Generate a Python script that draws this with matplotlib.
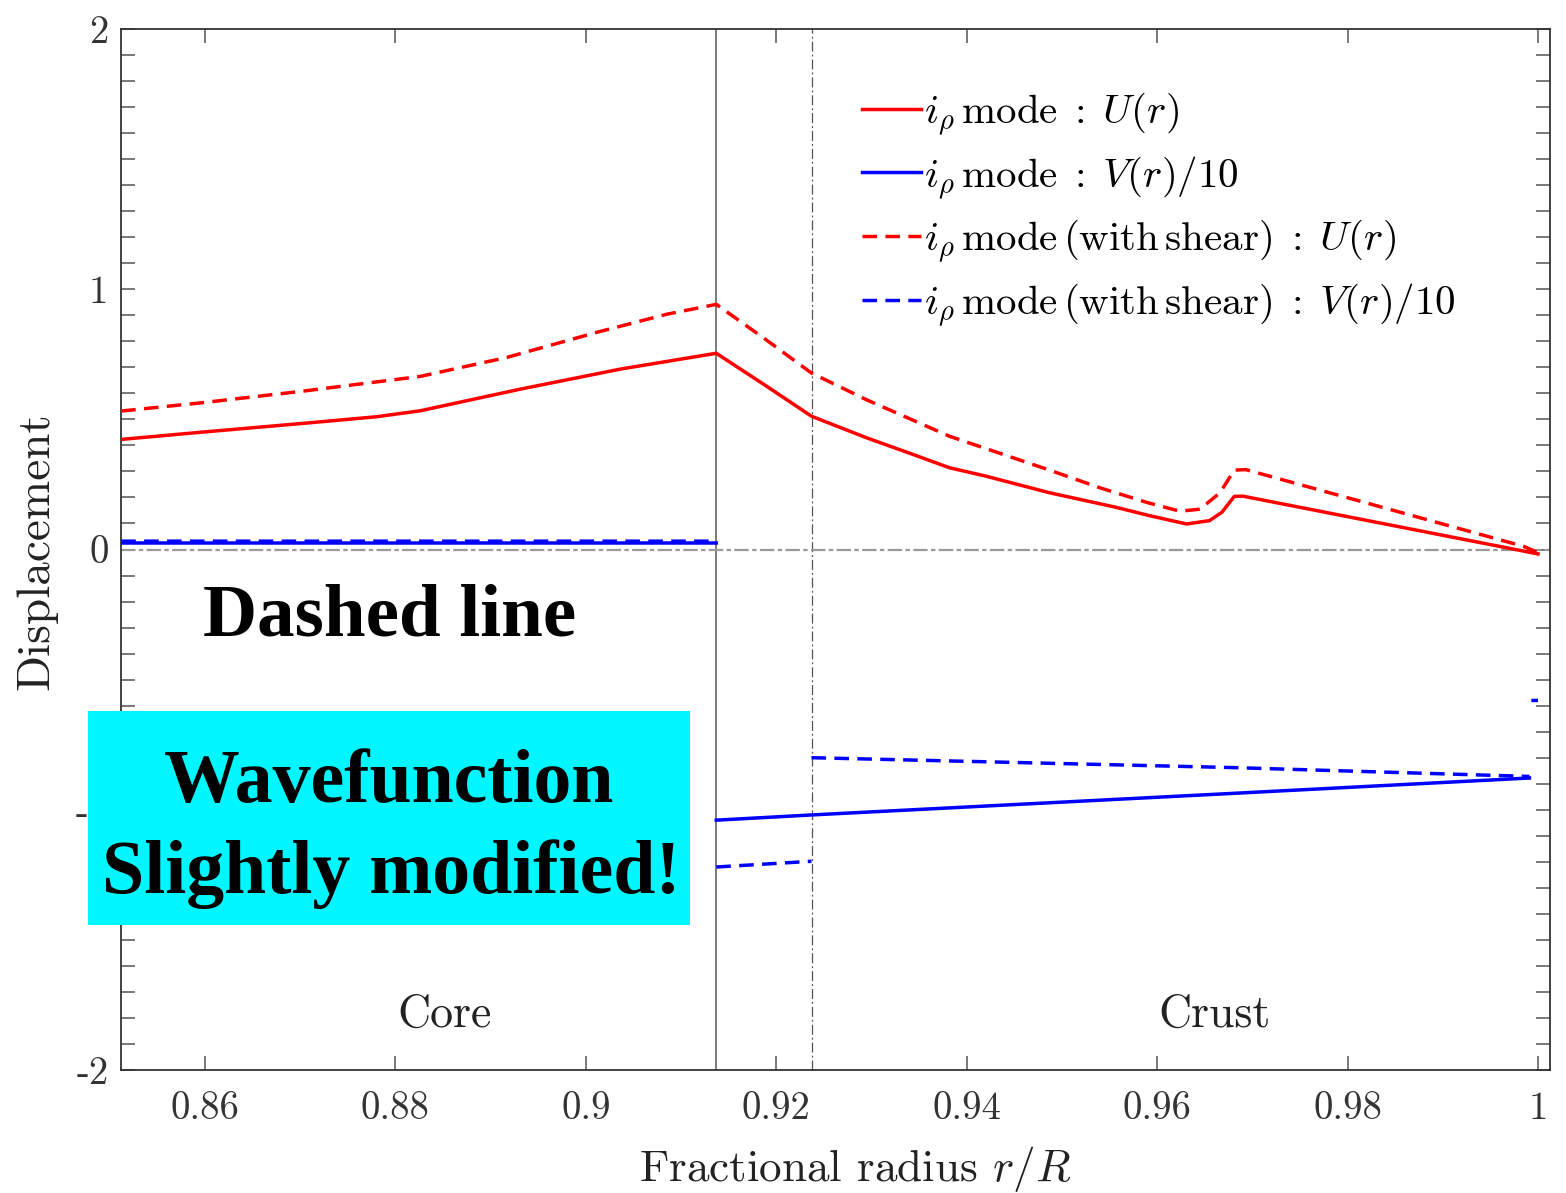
import numpy as np
import matplotlib
matplotlib.use("Agg")
import matplotlib.pyplot as plt
from matplotlib.patches import Rectangle

plt.rcParams["font.family"] = ["cmr10", "DejaVu Serif"]
plt.rcParams["mathtext.fontset"] = "cm"
plt.rcParams["axes.unicode_minus"] = False
plt.rcParams["axes.formatter.use_mathtext"] = True

nan = np.nan

# Region boundaries (fractional radius)
r_core_crust = 0.9137
r_shear_edge = 0.9237

# i_rho mode, no shear: U(r)
r_u = [0.8512, 0.8597, 0.8704, 0.8780, 0.8826, 0.8931, 0.9036, 0.9137, 0.9190,
       0.9237, 0.9295, 0.9340, 0.9382, 0.9420, 0.9487, 0.9557, 0.9592, 0.9631,
       0.9655, 0.9668, 0.9681, 0.9690, 1.0000]
u = [0.423, 0.451, 0.485, 0.510, 0.533, 0.616, 0.693, 0.754, 0.627,
     0.512, 0.429, 0.370, 0.314, 0.282, 0.218, 0.162, 0.130, 0.098,
     0.111, 0.143, 0.204, 0.205, -0.017]

# i_rho mode, with shear: U(r)
r_us = [0.8512, 0.8597, 0.8704, 0.8826, 0.8917, 0.9011, 0.9085, 0.9137, 0.9187,
        0.9237, 0.9295, 0.9382, 0.9487, 0.9540, 0.9590, 0.9624, 0.9645, 0.9666,
        0.9681, 0.9693, 0.9985, 1.0000]
us = [0.532, 0.564, 0.609, 0.665, 0.738, 0.834, 0.904, 0.942, 0.812,
      0.678, 0.575, 0.435, 0.305, 0.237, 0.180, 0.147, 0.155, 0.218,
      0.305, 0.307, 0.012, -0.012]

# i_rho mode, no shear: V(r)/10
r_v = [0.8512, 0.9137, 0.9137, 0.9137, 0.9237, 0.9680, 0.9991]
v = [0.025, 0.025, nan, -1.040, -1.020, -0.937, -0.878]

# i_rho mode, with shear: V(r)/10
r_vs = [0.8512, 0.9137, 0.9137, 0.9137, 0.9237, 0.9237, 0.9237, 0.9680, 0.9991,
        0.9991, 0.9993, 1.0000]
vs = [0.032, 0.032, nan, -1.220, -1.198, nan, -0.800, -0.838, -0.872,
      nan, -0.580, -0.580]

x_ticks = [0.86, 0.88, 0.90, 0.92, 0.94, 0.96, 0.98, 1.00]
x_ticklabels = ["0.86", "0.88", "0.9", "0.92", "0.94", "0.96", "0.98", "1"]
y_ticks = [-2, -1, 0, 1, 2]
y_ticklabels = ["-2", "-1", "0", "1", "2"]

labels = [
    r"$i_\rho\,\mathrm{mode}\;:\;U(r)$",
    r"$i_\rho\,\mathrm{mode}\;:\;V(r)/10$",
    r"$i_\rho\,\mathrm{mode}\,(\mathrm{with\,shear})\;:\;U(r)$",
    r"$i_\rho\,\mathrm{mode}\,(\mathrm{with\,shear})\;:\;V(r)/10$",
]

W, H = 1566, 1193
fig = plt.figure(figsize=(W / 100, H / 100), dpi=100)
ax = fig.add_axes([121 / W, 1 - 1070 / H, (1550 - 121) / W, (1070 - 29) / H])

lw = 2.5
dash = (0, (4.2, 2.4))
ax.plot(r_u, u, color="#ff0000", lw=lw, label=labels[0], zorder=4)
ax.plot(r_v, v, color="#0000ff", lw=lw, label=labels[1], zorder=4)
ax.plot(r_us, us, color="#ff0000", lw=lw, ls=dash, label=labels[2], zorder=4)
ax.plot(r_vs, vs, color="#0000ff", lw=lw, ls=dash, label=labels[3], zorder=4)

ax.axvline(r_core_crust, color="#7a7a7a", lw=1.4, zorder=2)
ax.axvline(r_shear_edge, color="#555555", lw=0.9, ls=(0, (8, 2.4, 1.5, 2.4)), zorder=2)
ax.axhline(0, color="#9a9a9a", lw=1.6, ls=(0, (6.5, 1.5, 2, 1.5)), zorder=2)

ax.set_xlim(0.85118, 1.00126)
ax.set_ylim(-2, 2)
ax.set_xticks(x_ticks)
ax.set_xticklabels(x_ticklabels)
ax.set_yticks(y_ticks)
ax.set_yticklabels(y_ticklabels)
ax.set_yticks(np.round(np.arange(-2, 2.001, 0.1), 2), minor=True)

ax.tick_params(axis="both", which="both", direction="in", top=True, right=True,
               color="#555555", width=1.1, length=10, labelsize=28,
               labelcolor="#333333")
ax.tick_params(axis="x", pad=15)
ax.tick_params(axis="y", pad=9)
for s in ax.spines.values():
    s.set_color("#333333")
    s.set_linewidth(1.3)

ax.set_xlabel(r"Fractional radius $r/R$", fontsize=32.5, color="#222222")
ax.set_ylabel("Displacement", fontsize=34, color="#222222")
ax.xaxis.set_label_coords(0.5136, -0.095)
ax.xaxis.label.set_va("center")
ax.yaxis.set_label_coords(-0.0588, 0.498)
ax.yaxis.label.set_va("center")

ax.text(0.8852, -1.79, "Core", fontsize=33, ha="center", va="center", color="#222222")
ax.text(0.9660, -1.79, "Crust", fontsize=33, ha="center", va="center", color="#222222")

ax.legend(loc="upper left", bbox_to_anchor=(0.5185, 0.941), frameon=False,
          fontsize=29.5, handlelength=1.43, handletextpad=0.08, labelspacing=0.40,
          borderaxespad=0, borderpad=0)

# Callout annotations
fig.text(390 / W, 1 - 636 / H, "Dashed line", ha="center", va="baseline",
         fontsize=54, fontweight="bold", family="Liberation Serif", color="black")
fig.add_artist(Rectangle((88 / W, 1 - 925 / H), (690 - 88) / W, (925 - 711) / H,
                         transform=fig.transFigure, facecolor="#00f7ff",
                         edgecolor="none", zorder=5))
fig.text(389 / W, 1 - 802 / H, "Wavefunction", ha="center", va="baseline",
         fontsize=54.5, fontweight="bold", family="Liberation Serif", color="black",
         zorder=6)
fig.text(391 / W, 1 - 893 / H, "Slightly modified!", ha="center", va="baseline",
         fontsize=54.5, fontweight="bold", family="Liberation Serif", color="black",
         zorder=6)

fig.savefig("out.png", dpi=100)
